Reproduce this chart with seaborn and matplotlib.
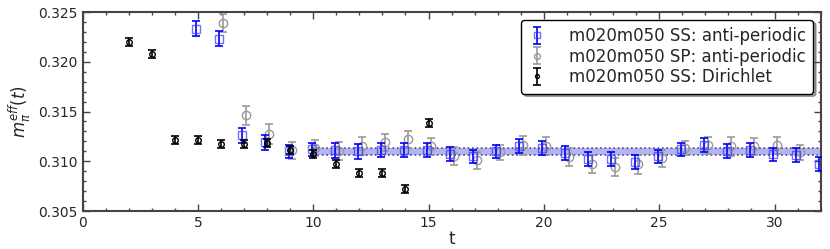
import numpy as np
import seaborn as sns
import matplotlib.pyplot as plt
from matplotlib.ticker import MultipleLocator

# effective mass data
t_ss = np.arange(5, 33)
m_ss = [0.3233, 0.3223, 0.3126, 0.3119, 0.3110, 0.3112, 0.3111, 0.3110, 0.3111, 0.3111,
        0.3111, 0.3107, 0.3105, 0.3110, 0.3115, 0.3113, 0.3108, 0.3102, 0.3102, 0.3099,
        0.3105, 0.3112, 0.3116, 0.3110, 0.3111, 0.3107, 0.3106, 0.3097]
e_ss = [0.00075, 0.00075, 0.00073, 0.00078, 0.00067, 0.00063, 0.00078, 0.00075, 0.00072, 0.00072,
        0.00070, 0.00070, 0.00068, 0.00068, 0.00072, 0.00070, 0.00070, 0.00072, 0.00072, 0.00070,
        0.00065, 0.00068, 0.00072, 0.00072, 0.00070, 0.00065, 0.00070, 0.00072]

t_sp = np.arange(6, 32)
m_sp = [0.3239, 0.3146, 0.3127, 0.3111, 0.3113, 0.3110, 0.3115, 0.3119, 0.3122, 0.3115,
        0.3105, 0.3101, 0.3109, 0.3116, 0.3115, 0.3104, 0.3097, 0.3094, 0.3097, 0.3103,
        0.3113, 0.3116, 0.3115, 0.3115, 0.3116, 0.3109]
e_sp = [0.0009, 0.00092, 0.0010, 0.00087, 0.0008, 0.0009, 0.0009, 0.00083, 0.00083, 0.00088,
        0.00092, 0.00087, 0.00075, 0.00095, 0.0009, 0.0009, 0.0009, 0.0009, 0.00095, 0.00087,
        0.0007, 0.00087, 0.00097, 0.00083, 0.00083, 0.00075]

t_dir = np.arange(2, 16)
m_dir = [0.3220, 0.3208, 0.3121, 0.3121, 0.3117, 0.3117, 0.3118, 0.3111, 0.3107, 0.3097,
         0.3088, 0.3088, 0.3072, 0.3138]
e_dir = [0.0004] * len(t_dir)

fit_range = [10, 32]
fit_lo, fit_hi = 0.3106, 0.3113

sns.set_style("ticks")
plt.rcParams['font.family'] = ['DejaVu Sans']

fig, ax = plt.subplots(figsize=(8.3, 2.49), dpi=100)
fig.subplots_adjust(left=0.0994, right=0.9888, top=0.9518, bottom=0.1526)

# fit band
ax.fill_between(fit_range, [fit_lo, fit_lo], [fit_hi, fit_hi], color='#b4b4f0', linewidth=0, zorder=1)
ax.hlines([fit_lo, fit_hi], fit_range[0], fit_range[1], colors='#4a4a8a', linestyles=':', linewidth=1.2, zorder=2)

ax.errorbar(t_ss - 0.07, m_ss, yerr=e_ss, fmt='s', color='blue', mfc='none', mec=(0.2, 0.2, 1.0, 0.7),
            ms=6, capsize=3, elinewidth=1.2, capthick=1.2, label='m020m050 SS: anti-periodic', zorder=4)
ax.errorbar(t_sp + 0.1, m_sp, yerr=e_sp, fmt='o', color='#999999', mfc='none',
            ms=6, capsize=3, elinewidth=1.2, capthick=1.2, label='m020m050 SP: anti-periodic', zorder=3)
ax.errorbar(t_dir, m_dir, yerr=e_dir, fmt='o', color='black', mfc='none',
            ms=4, capsize=3, elinewidth=1.2, capthick=1.2, label='m020m050 SS: Dirichlet', zorder=5)

ax.set_xlim(0, 32)
ax.set_ylim(0.305, 0.325)
ax.xaxis.set_major_locator(MultipleLocator(5))
ax.xaxis.set_minor_locator(MultipleLocator(1))
ax.yaxis.set_major_locator(MultipleLocator(0.005))
ax.yaxis.set_minor_locator(MultipleLocator(0.001))
ax.yaxis.set_major_formatter(plt.FormatStrFormatter('%.3f'))
ax.tick_params(which='both', direction='in', top=True, right=True, labelsize=10, color='#444444')
ax.tick_params(which='major', length=5, width=1)
ax.tick_params(which='minor', length=2.5, width=1)
for sp in ax.spines.values():
    sp.set_color('#444444')
    sp.set_linewidth(1.5)

ax.set_xlabel('t', fontsize=12, labelpad=0)
ax.set_ylabel(r'$m_\pi^{eff}(t)$', fontsize=12)

leg = ax.legend(loc='upper right', fontsize=12, fancybox=True, shadow=True, framealpha=1,
                handlelength=1.0, handletextpad=1.4, borderaxespad=0.45, labelspacing=0.15,
                borderpad=0.45, markerscale=0.7)
leg.get_frame().set_edgecolor('black')

plt.savefig('out.png', dpi=100)
